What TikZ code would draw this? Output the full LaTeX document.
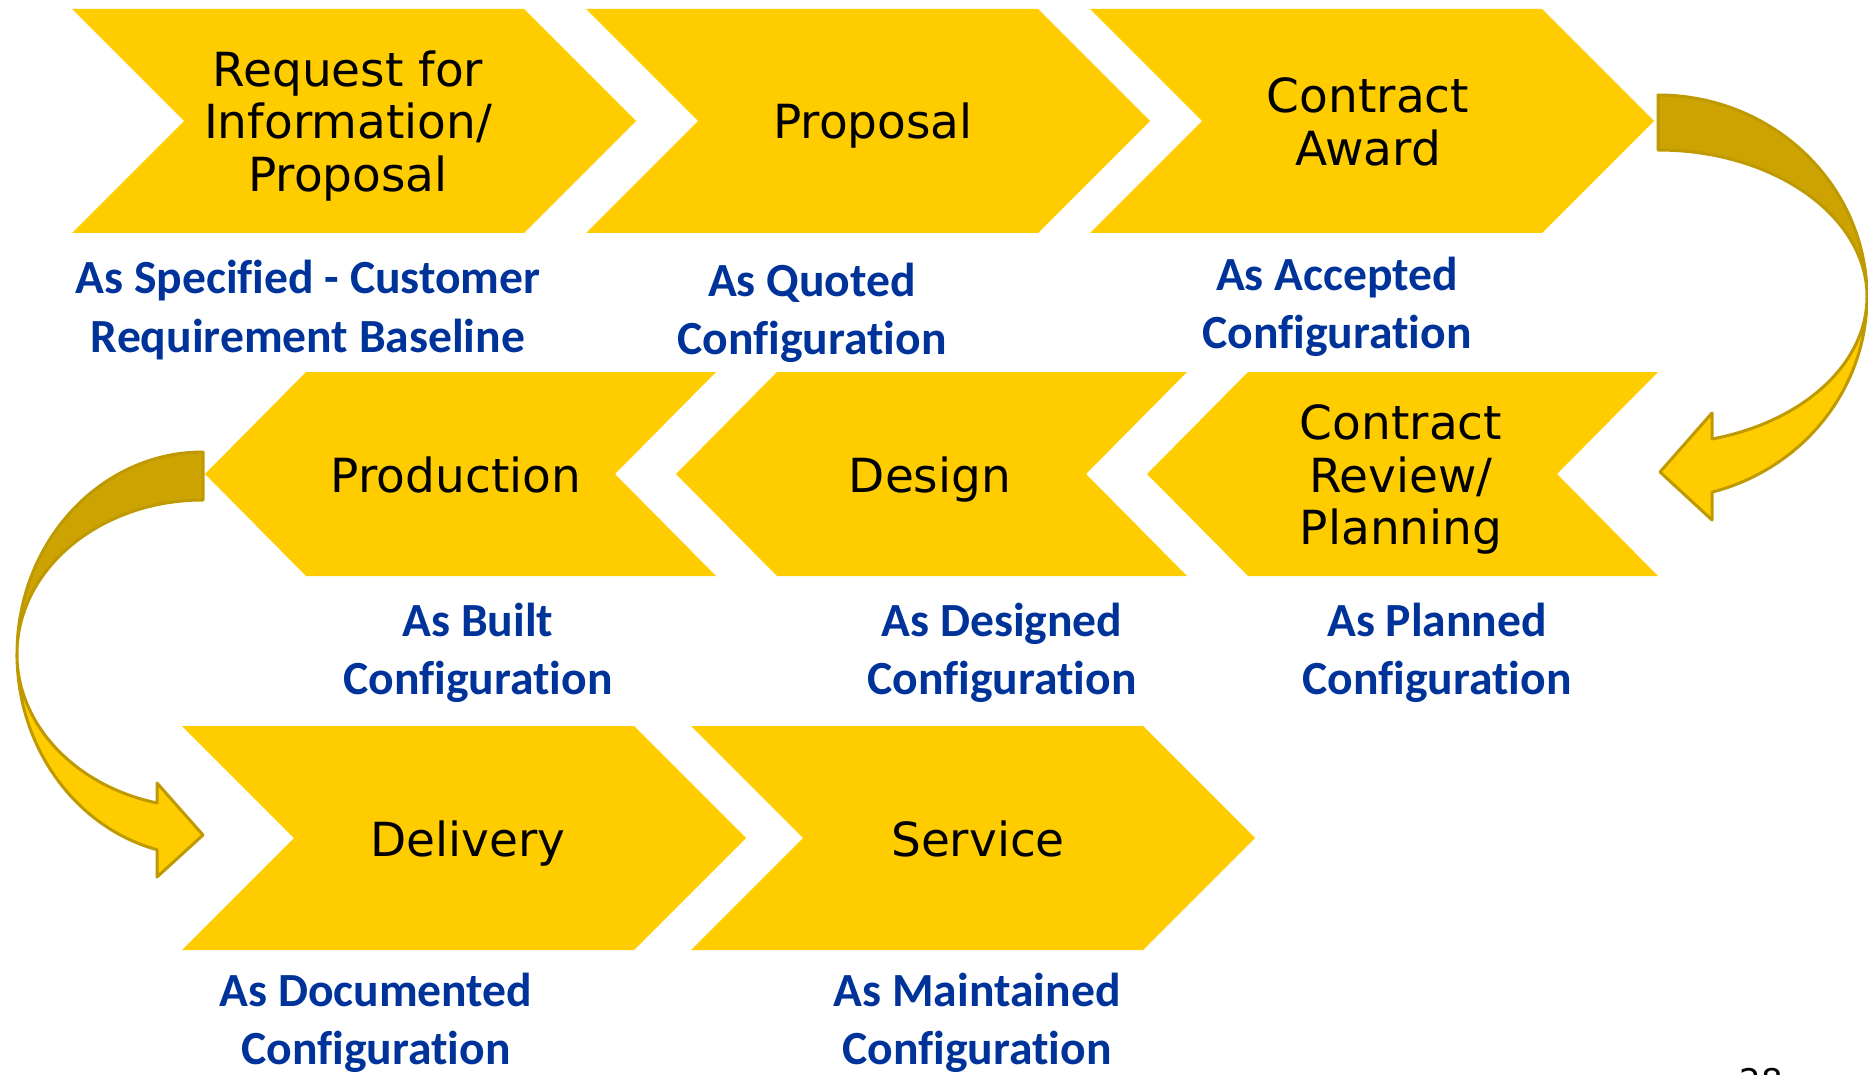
\documentclass[tikz,border=0pt]{standalone}
\usepackage{fontspec}
\newfontfamily\stepfont{DejaVu Sans}
\newfontfamily\cfgfont{Carlito}[Ligatures=CommonOff]

\definecolor{chevyellow}{HTML}{FFCC00}
\definecolor{bandgold}{HTML}{CCA300}
\definecolor{bandline}{HTML}{BF9900}
\definecolor{cfgblue}{HTML}{003399}

% chevron pointing right: [node options], name, left x, middle y, text
\newcommand{\chevright}[5][]{%
    \fill[chevyellow] (#3,#4-112) -- ++(452,0) -- ++(112,112) -- ++(-112,112)
        -- ++(-452,0) -- ++(112,-112) -- cycle;
    \node[steptext, #1] (#2) at (#3+282,#4) {#5};}
% chevron pointing left: [node options], name, tip x, middle y, text
\newcommand{\chevleft}[5][]{%
    \fill[chevyellow] (#3,#4) -- ++(101,-102) -- ++(410,0) -- ++(-101,102)
        -- ++(101,102) -- ++(-410,0) -- cycle;
    \node[steptext, #1] (#2) at (#3+256,#4) {#5};}

\begin{document}
\begin{tikzpicture}[x = 1pt, y = -1pt,
    steptext/.style = {align = center, inner sep = 0pt, text height = 36pt, text depth = 0pt,
        font = \stepfont\fontsize{47}{52.4}\selectfont},
    twolines/.style = {text height = 88.4pt},
    threelines/.style = {text height = 140.8pt},
    cfg/.style = {align = center, inner sep = 0pt, text = cfgblue, font = \cfgfont\bfseries\fontsize{47.6}{58.4}\selectfont},
    backband/.style = {fill = bandgold, draw = bandline, line width = 3pt, line join = round},
    frontband/.style = {fill = chevyellow, draw = bandline, line width = 3pt, line join = round}]
        \useasboundingbox (0,0) rectangle (1868,1075);

        % first row
        \chevright[threelines, xshift = -6pt]{rfi}{72}{121}{Request for\\Information/\\Proposal}
        \chevright[xshift = 5pt]{proposal}{586}{121}{Proposal}
        \chevright[twolines, xshift = -4pt]{award}{1090}{121}{Contract\\Award}
        % second row
        \chevleft[xshift = -5pt]{production}{205}{474}{Production}
        \chevleft[xshift = -2pt]{design}{676}{474}{Design}
        \chevleft[threelines, xshift = -2pt]{review}{1147}{474}{Contract\\Review/\\Planning}
        % third row
        \chevright[xshift = 4pt]{delivery}{182}{838}{Delivery}
        \chevright[xshift = 5pt]{service}{691}{838}{Service}

        % baselines
        \node[cfg] (specified) at (308,310) {As Specified - Customer\\Requirement Baseline};
        \node[cfg] (quoted) at (812,313) {As Quoted\\Configuration};
        \node[cfg] (accepted) at (1337,307) {As Accepted\\Configuration};
        \node[cfg] (built) at (478,653) {As Built\\Configuration};
        \node[cfg] (designed) at (1002,653) {As Designed\\Configuration};
        \node[cfg] (planned) at (1437,653) {As Planned\\Configuration};
        \node[cfg] (documented) at (376,1023) {As Documented\\Configuration};
        \node[cfg] (maintained) at (977,1023) {As Maintained\\Configuration};

        % turn from award down to review
        \draw[backband] (1658,95) arc[start angle = 90, end angle = 0, x radius = 209pt, y radius = 202pt]
            arc[start angle = 0, end angle = 90, x radius = 209pt, y radius = 147pt] -- cycle;
        \draw[frontband] (1867,297) arc[start angle = 0, end angle = -75, x radius = 209pt, y radius = 202pt]
            -- (1712,520) -- (1660,472) -- (1712,413) -- (1712,439)
            arc[start angle = -75, end angle = 0, x radius = 209pt, y radius = 147pt] -- cycle;

        % turn from production down to delivery
        \draw[backband] (203,452) arc[start angle = 90, end angle = 180, x radius = 186pt, y radius = 202pt]
            arc[start angle = 180, end angle = 90, x radius = 186pt, y radius = 154pt] -- cycle;
        \draw[frontband] (17,654) arc[start angle = 180, end angle = 255.7, x radius = 186pt, y radius = 202pt]
            -- (157,877) -- (203,835) -- (157,783) -- (157,803)
            arc[start angle = 255.7, end angle = 180, x radius = 186pt, y radius = 154pt] -- cycle;

        \node[anchor = north, inner sep = 0pt, font = \stepfont\fontsize{34}{40}\selectfont] (pagenum) at (1761,1068) {28};
\end{tikzpicture}
\end{document}
